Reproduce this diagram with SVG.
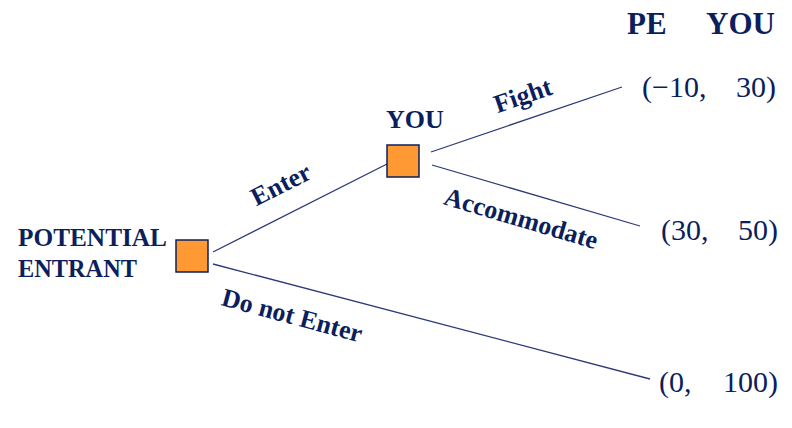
<svg xmlns="http://www.w3.org/2000/svg" width="792" height="428" viewBox="0 0 792 428">
<style>
.b{font-family:"Liberation Serif","Times New Roman",serif;font-weight:bold;fill:#0C1F5C;font-size:26px}
.h{font-size:31px}
.p{font-family:"Liberation Serif","Times New Roman",serif;fill:#0C1F5C;font-size:30px}
.node{fill:#FF9933;stroke:#0C1F5C;stroke-width:1.5}
.edge{stroke:#2B3A78;stroke-width:1.3;fill:none}
</style>
<rect width="792" height="428" fill="#fff"/>
<g id="connectors">
<line class="edge" x1="213" y1="252" x2="387" y2="164"/>
<line class="edge" x1="213" y1="264" x2="650" y2="379"/>
<line class="edge" x1="431" y1="152" x2="622" y2="87"/>
<line class="edge" x1="432" y1="165" x2="640" y2="226"/>
<text class="b" text-anchor="middle" transform="translate(281,185) rotate(-27)" y="8">Enter</text>
<text class="b" text-anchor="middle" transform="translate(292,316) rotate(15)" y="8">Do not Enter</text>
<text class="b" text-anchor="middle" transform="translate(523,96) rotate(-19)" y="8">Fight</text>
<text class="b" text-anchor="middle" transform="translate(521,219) rotate(16.5)" y="8">Accommodate</text>
</g>
<g id="header">
<text class="b h" x="627" y="34">PE</text>
<text class="b h" x="775" y="34" text-anchor="end">YOU</text>
</g>
<g id="potential-entrant">
<rect class="node" x="176" y="240" width="32" height="32"/>
<text class="b" x="18" y="246" textLength="149" lengthAdjust="spacingAndGlyphs">POTENTIAL</text>
<text class="b" x="18" y="277" textLength="119" lengthAdjust="spacingAndGlyphs">ENTRANT</text>
</g>
<g id="you">
<rect class="node" x="387" y="145" width="32" height="32"/>
<text class="b" x="386" y="128">YOU</text>
</g>
<g id="payoff-fight">
<text class="p" x="642" y="97">(−10,</text>
<text class="p" x="776" y="97" text-anchor="end">30)</text>
</g>
<g id="payoff-accommodate">
<text class="p" x="661" y="240">(30,</text>
<text class="p" x="778" y="240" text-anchor="end">50)</text>
</g>
<g id="payoff-no-entry">
<text class="p" x="659" y="392">(0,</text>
<text class="p" x="778" y="392" text-anchor="end">100)</text>
</g>
</svg>
